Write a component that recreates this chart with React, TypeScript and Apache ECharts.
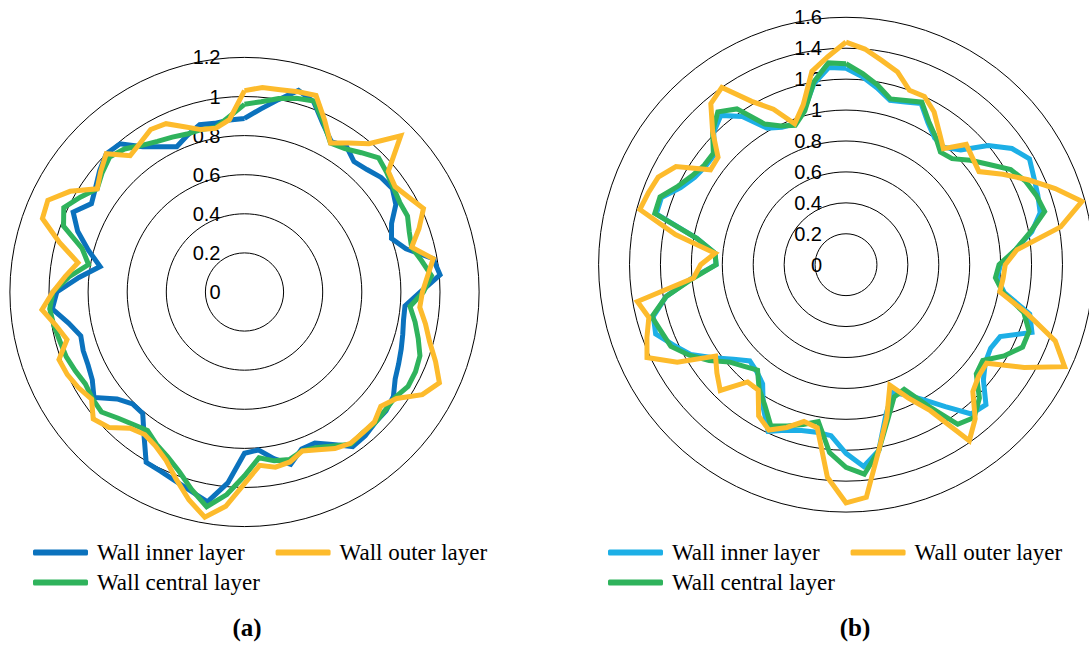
import React, { useEffect, useRef } from "react";
import * as echarts from "echarts";

// Angular positions (degrees, clockwise from top)
const angles = [
  0, 5, 10, 15, 20, 25, 30, 35, 40, 45, 50, 55, 60, 65, 70, 75, 80, 85, 90, 95,
  100, 105, 110, 115, 120, 125, 130, 135, 140, 145, 150, 155, 160, 165, 170, 175,
  180, 185, 190, 195, 200, 205, 210, 215, 220, 225, 230, 235, 240, 245, 250, 255,
  260, 265, 270, 275, 280, 285, 290, 295, 300, 305, 310, 315, 320, 325, 330, 335,
  340, 345, 350, 355,
];

// Chart (a)
const aInner = [
  0.888, 0.939, 0.999, 1.067, 1.035, 0.949, 0.888, 0.909, 0.871, 0.886,
  0.912, 0.923, 0.894, 0.83, 0.8, 0.855, 0.98, 1.004, 0.9, 0.824,
  0.826, 0.838, 0.853, 0.87, 0.89, 0.93, 0.945, 0.945, 0.96, 0.965,
  0.9, 0.852, 0.855, 0.913, 0.866, 0.811, 0.825, 0.98, 1.09, 1.055,
  1.03, 1.012, 1.006, 0.896, 0.81, 0.81, 0.851, 0.94, 0.899, 0.883,
  0.878, 0.867, 0.914, 0.987, 0.96, 0.85, 0.75, 0.827, 0.908, 0.967,
  0.904, 0.93, 0.967, 1.0, 0.99, 0.907, 0.858, 0.82, 0.853, 0.886,
  0.876, 0.883,
];
const aCentral = [
  0.96, 0.977, 1.005, 1.026, 1.04, 0.957, 0.88, 0.895, 0.93, 0.97,
  0.95, 0.93, 0.917, 0.92, 0.897, 0.885, 0.92, 0.96, 0.915, 0.85,
  0.886, 0.92, 0.955, 0.965, 0.966, 0.94, 0.94, 0.945, 0.94, 0.95,
  0.91, 0.878, 0.864, 0.887, 0.877, 0.851, 0.94, 1.04, 1.115, 1.046,
  0.977, 0.93, 0.9, 0.865, 0.885, 0.913, 0.955, 0.95, 0.94, 0.955,
  0.97, 0.977, 0.99, 1.0, 0.98, 0.9, 0.81, 0.86, 0.985, 1.02,
  0.97, 0.92, 0.95, 0.976, 0.955, 0.916, 0.89, 0.874, 0.86, 0.86,
  0.855, 0.9,
];
const aOuter = [
  1.03, 1.05, 1.05, 1.06, 1.07, 0.97, 0.88, 0.93, 0.99, 1.13,
  0.96, 0.94, 0.97, 1.01, 0.95, 0.885, 0.98, 0.94, 0.91, 0.9,
  0.94, 0.98, 1.04, 1.1, 1.05, 0.95, 0.91, 0.94, 0.94, 0.945,
  0.925, 0.89, 0.865, 0.9, 0.91, 0.89, 0.98, 1.1, 1.17, 1.1,
  1.02, 0.95, 0.91, 0.89, 0.91, 0.98, 1.01, 0.955, 0.98, 1.0,
  1.01, 0.94, 0.98, 1.04, 0.98, 0.92, 0.865, 0.98, 1.1, 1.11,
  1.03, 0.92, 0.96, 1.0, 0.91, 0.93, 0.96, 0.95, 0.9, 0.86,
  0.85, 0.885,
];

// Chart (b)
const bInner = [
  1.27, 1.22, 1.16, 1.1, 1.12, 1.15, 1.06, 1.0, 0.99, 1.05,
  1.2, 1.31, 1.37, 1.34, 1.32, 1.3, 1.22, 1.1, 1.0, 0.98,
  1.04, 1.23, 1.28, 1.1, 1.08, 1.1, 1.16, 1.28, 1.26, 1.12,
  1.01, 0.93, 0.88, 1.0, 1.22, 1.31, 1.22, 1.11, 1.1, 1.11,
  1.14, 1.19, 1.07, 0.94, 0.9, 0.88, 0.95, 1.05, 1.16, 1.23,
  1.31, 1.29, 1.18, 1.0, 0.84, 0.85, 0.98, 1.27, 1.27, 1.18,
  1.13, 1.11, 1.11, 1.21, 1.26, 1.17, 1.02, 0.98, 0.97, 1.04,
  1.19, 1.28,
];
const bCentral = [
  1.3, 1.24, 1.18, 1.11, 1.13, 1.16, 1.07, 1.01, 0.95, 0.97,
  1.05, 1.13, 1.23, 1.28, 1.31, 1.33, 1.21, 1.1, 0.99, 0.97,
  1.03, 1.19, 1.26, 1.26, 1.18, 1.08, 1.1, 1.22, 1.29, 1.26,
  1.05, 0.89, 0.91, 1.04, 1.22, 1.36, 1.31, 1.22, 1.03, 1.07,
  1.11, 1.15, 1.05, 0.98, 0.89, 0.93, 0.98, 1.08, 1.17, 1.25,
  1.27, 1.3, 1.18, 0.99, 0.84, 0.85, 0.98, 1.28, 1.28, 1.2,
  1.15, 1.12, 1.12, 1.22, 1.29, 1.23, 1.05, 0.99, 0.96, 1.03,
  1.2, 1.31,
];
const bOuter = [
  1.44, 1.4, 1.34, 1.29, 1.2, 1.2, 1.14, 1.05, 0.98, 1.1,
  1.07, 1.05, 1.17, 1.3, 1.44, 1.58, 1.41, 1.11, 1.03, 1.02,
  1.01, 1.21, 1.44, 1.56, 1.33, 1.11, 1.12, 1.16, 1.3, 1.39,
  1.09, 0.95, 0.83, 1.02, 1.22, 1.51, 1.54, 1.38, 1.07, 1.05,
  1.12, 1.18, 1.13, 0.99, 0.99, 1.15, 1.09, 1.03, 1.26, 1.42,
  1.37, 1.32, 1.37, 0.99, 0.94, 0.85, 1.12, 1.38, 1.36, 1.34,
  1.27, 1.07, 1.08, 1.22, 1.36, 1.4, 1.22, 1.11, 0.97, 1.07,
  1.27, 1.35,
];

const legendLabels: Record<string, string> = {
  "a-inner": "Wall inner layer",
  "a-outer": "Wall outer layer",
  "a-central": "Wall central layer",
  "b-inner": "Wall inner layer",
  "b-outer": "Wall outer layer",
  "b-central": "Wall central layer",
};

const BLUE_A = "#0B72BD";
const BLUE_B = "#1DAFE6";
const GREEN = "#2FB35C";
const ORANGE = "#FDBB2C";

function closed(values: number[]) {
  const pts = values.map((v, i) => [v, angles[i]]);
  pts.push([values[0], 360]);
  return pts;
}

function lineSeries(name: string, values: number[], polarIndex: number, color: string, z: number) {
  return {
    name,
    type: "line",
    coordinateSystem: "polar",
    polarIndex,
    data: closed(values),
    symbol: "none",
    smooth: false,
    z,
    lineStyle: { width: 5, color, join: "miter" },
    itemStyle: { color },
  };
}

function angleAxis(polarIndex: number) {
  return {
    polarIndex,
    type: "value",
    min: 0,
    max: 360,
    startAngle: 90,
    clockwise: true,
    axisLine: { show: false },
    axisTick: { show: false },
    axisLabel: { show: false },
    splitLine: { show: false },
  };
}

function radiusAxis(polarIndex: number, max: number) {
  return {
    polarIndex,
    type: "value",
    min: 0,
    max,
    interval: 0.2,
    axisLine: { show: false },
    axisTick: { show: false },
    axisLabel: {
      show: true,
      color: "#000",
      fontSize: 20,
      fontFamily: "Liberation Sans",
      margin: 24,
      showMinLabel: true,
      showMaxLabel: true,
    },
    splitLine: { show: true, lineStyle: { color: "#000", width: 1 } },
    z: 1,
  };
}

function legend(names: string[], left: number, top: number) {
  return {
    data: names,
    left,
    top,
    orient: "horizontal",
    itemGap: 31,
    itemWidth: 55,
    itemHeight: 6,
    icon: "roundRect",
    formatter: (n: string) => legendLabels[n],
    textStyle: {
      fontFamily: "Liberation Serif",
      fontSize: 23,
      color: "#000",
      padding: [0, 0, 0, 4],
    },
    selectedMode: false,
  };
}

const titleStyle = { fontFamily: "Liberation Serif", fontWeight: "bold", fontSize: 25, color: "#000" };

export default function App() {
  const ref = useRef<HTMLDivElement>(null);
  useEffect(() => {
    if (!ref.current) return;
    const chart = echarts.init(ref.current, undefined, { renderer: "svg" });
    chart.setOption({
      animation: false,
      backgroundColor: "#fff",
      title: [
        { text: "(a)", left: 247, top: 615, padding: 0, textAlign: "center", textStyle: titleStyle },
        { text: "(b)", left: 855, top: 615, padding: 0, textAlign: "center", textStyle: titleStyle },
      ],
      legend: [
        legend(["a-inner", "a-outer"], 28, 536),
        legend(["a-central"], 28, 566),
        legend(["b-inner", "b-outer"], 603, 536),
        legend(["b-central"], 603, 566),
      ],
      polar: [
        { center: [244.5, 292], radius: 234.6 },
        { center: [846, 264.7], radius: 247.4 },
      ],
      angleAxis: [angleAxis(0), angleAxis(1)],
      radiusAxis: [radiusAxis(0, 1.2), radiusAxis(1, 1.6)],
      series: [
        lineSeries("a-inner", aInner, 0, BLUE_A, 3),
        lineSeries("a-central", aCentral, 0, GREEN, 4),
        lineSeries("a-outer", aOuter, 0, ORANGE, 5),
        lineSeries("b-inner", bInner, 1, BLUE_B, 3),
        lineSeries("b-central", bCentral, 1, GREEN, 4),
        lineSeries("b-outer", bOuter, 1, ORANGE, 5),
      ],
    });
    return () => chart.dispose();
  }, []);
  return (
    <div
      ref={ref}
      style={{ position: "absolute", left: 0, top: 0, width: 1089, height: 646, background: "#fff" }}
    />
  );
}
